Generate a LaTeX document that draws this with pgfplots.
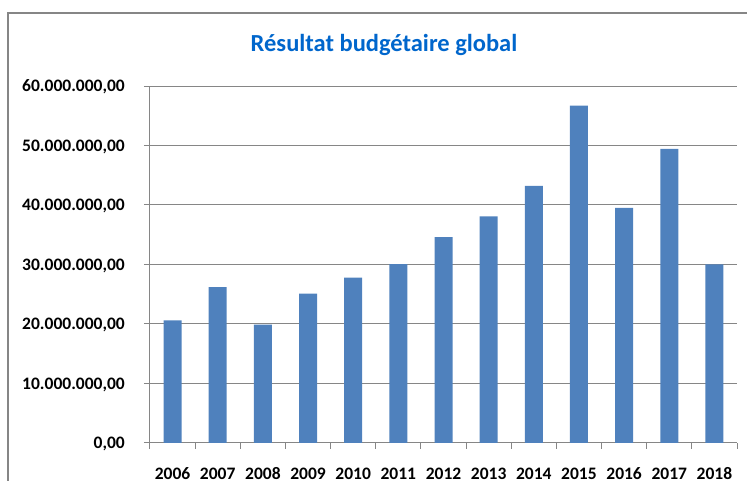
\documentclass[border=0pt]{standalone}
\usepackage{fontspec}
\setmainfont{Carlito}
\usepackage{pgfplots}
\pgfplotsset{compat=1.18}
\definecolor{barblue}{RGB}{79,129,189}
\definecolor{titleblue}{RGB}{0,102,204}
\definecolor{gridgray}{RGB}{134,134,134}
\begin{document}
\begin{tikzpicture}[x=1pt,y=1pt]
\useasboundingbox (0,0) rectangle (747,481);
\draw[gridgray, line width=1.2pt] (8,0) -- (8,468) -- (747,468);
\node[font=\bfseries\fontsize{24.5}{28}\selectfont, text=titleblue] at (384,436) {Résultat budgétaire global};
\begin{axis}[
  at={(150pt,38pt)}, anchor=south west,
  scale only axis, width=587pt, height=357pt,
  xmin=-0.5, xmax=12.5, ymin=0, ymax=60000000,
  axis lines=left,
  axis line style={-, gridgray, line width=1pt},
  ymajorgrids,
  major grid style={gridgray, line width=1pt},
  tick align=outside,
  major tick length=6pt, minor tick length=6pt,
  tick style={gridgray, line width=1pt},
  xtick={0,1,2,3,4,5,6,7,8,9,10,11,12},
  xticklabels={2006,2007,2008,2009,2010,2011,2012,2013,2014,2015,2016,2017,2018},
  minor xtick={-0.5,0.5,1.5,2.5,3.5,4.5,5.5,6.5,7.5,8.5,9.5,10.5,11.5,12.5},
  major x tick style={draw=none},
  ytick={0,10000000,20000000,30000000,40000000,50000000,60000000},
  yticklabels={{0,00},{10.000.000,00},{20.000.000,00},{30.000.000,00},{40.000.000,00},{50.000.000,00},{60.000.000,00}},
  scaled y ticks=false,
  ticklabel style={font=\bfseries\fontsize{17.5}{20}\selectfont, text=black},
  yticklabel style={anchor=base east, inner sep=0pt, xshift=-19pt, yshift=-5.8pt},
  xticklabel style={anchor=center, inner sep=0pt, yshift=-25pt},
  clip=false,
]
\addplot[ybar, bar width=18pt, fill=barblue, draw=none] coordinates {
  (0,20620000) (1,26200000) (2,19900000) (3,25100000) (4,27800000)
  (5,30050000) (6,34600000) (7,38100000) (8,43200000) (9,56700000)
  (10,39500000) (11,49450000) (12,30000000)
};
\end{axis}
\end{tikzpicture}
\end{document}
